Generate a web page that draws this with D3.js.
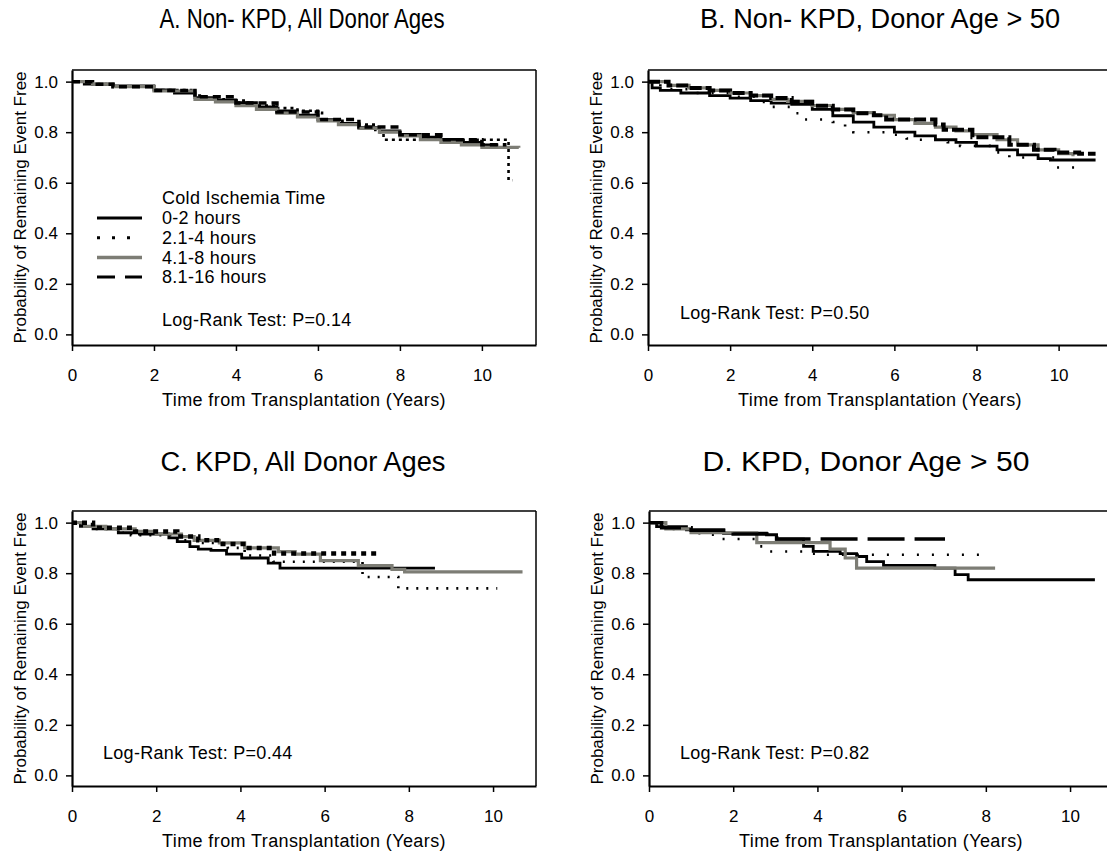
<!DOCTYPE html>
<html>
<head>
<meta charset="utf-8">
<script src="https://cdn.jsdelivr.net/npm/d3@7"></script>
<style>
  body { margin: 0; background: #fff; }
  text { font-family: "Liberation Sans", Arial, sans-serif; fill: #000; }
</style>
</head>
<body>
<svg id="chart" width="1107" height="860"></svg>
<script>
// ---- data: [years, survival] step points ----
const groups = ["0-2 hours", "2.1-4 hours", "4.1-8 hours", "8.1-16 hours"];
const xTicks = [0, 2, 4, 6, 8, 10];
const yTicks = [0.0, 0.2, 0.4, 0.6, 0.8, 1.0];
const titles = ["A. Non- KPD, All Donor Ages", "B. Non- KPD, Donor Age > 50",
                "C. KPD, All Donor Ages", "D. KPD, Donor Age > 50"];
const pValues = ["0.14", "0.50", "0.44", "0.82"];

// A. Non-KPD, all donor ages
const a0to2 = [[0,1],[0.3,0.99],[1,0.983],[2,0.967],[2.5,0.955],[3,0.937],[3.5,0.928],[4,0.917],[4.5,0.9],[5,0.884],[5.5,0.867],[6,0.85],[6.5,0.835],[7,0.818],[7.5,0.805],[8,0.791],[8.5,0.78],[9,0.771],[9.5,0.76],[10,0.75],[10.4,0.75]];
const a2to4 = [[0,1],[0.5,0.99],[1,0.982],[2,0.967],[3,0.945],[3.2,0.93],[3.7,0.925],[4.3,0.905],[5,0.895],[5.5,0.885],[6,0.877],[6.1,0.845],[6.6,0.835],[7,0.83],[7.4,0.8],[7.6,0.77],[10.6,0.77],[10.65,0.61],[10.75,0.61]];
const a4to8 = [[0,1],[0.5,0.99],[1,0.98],[2,0.963],[3,0.93],[3.5,0.92],[4,0.905],[4.5,0.89],[5,0.875],[5.5,0.86],[6,0.845],[6.5,0.83],[7,0.815],[7.5,0.8],[8,0.785],[8.5,0.77],[9,0.76],[9.5,0.75],[10,0.74],[10.9,0.738]];
const a8to16 = [[0,1],[0.5,0.99],[1,0.98],[2,0.965],[3,0.94],[4,0.915],[5,0.88],[6,0.85],[7,0.82],[8,0.79],[9,0.77],[10,0.75],[10.6,0.75]];

// B. Non-KPD, donor age > 50
const b0to2 = [[0,1],[0.1,0.975],[0.3,0.965],[0.8,0.955],[1.5,0.945],[2,0.935],[2.5,0.925],[3,0.915],[3.5,0.91],[4,0.89],[4.5,0.865],[5,0.84],[5.5,0.82],[6,0.8],[6.5,0.785],[7,0.77],[7.5,0.76],[8,0.745],[8.5,0.73],[9,0.71],[9.5,0.695],[9.8,0.69],[10.9,0.69]];
const b2to4 = [[0,1],[0.3,0.97],[1,0.955],[2,0.94],[2.7,0.92],[3,0.9],[3.5,0.875],[3.8,0.85],[4.5,0.84],[4.8,0.81],[5,0.8],[6,0.79],[6.3,0.775],[6.6,0.77],[7.3,0.76],[7.6,0.746],[8.5,0.72],[8.8,0.7],[9.9,0.66],[10.43,0.66]];
const b4to8 = [[0,1],[0.5,0.985],[1,0.975],[1.5,0.965],[2,0.955],[2.5,0.945],[3,0.93],[3.4,0.922],[4,0.905],[4.5,0.89],[5,0.877],[5.5,0.867],[6,0.85],[6.5,0.835],[7,0.82],[7.5,0.805],[7.9,0.79],[8.5,0.77],[9,0.75],[9.5,0.73],[10,0.715],[10.35,0.705]];
const b8to16 = [[0,1],[0.5,0.985],[1,0.975],[1.5,0.965],[2,0.955],[2.5,0.945],[3,0.935],[3.5,0.92],[4,0.905],[4.5,0.89],[5,0.875],[5.5,0.867],[5.8,0.85],[7,0.83],[7.2,0.81],[7.9,0.78],[8.8,0.75],[9.4,0.73],[9.9,0.72],[10.5,0.715],[10.9,0.715]];

// C. KPD, all donor ages
const c0to2 = [[0,1],[0.2,0.985],[0.5,0.975],[1.1,0.96],[1.6,0.955],[2.3,0.94],[2.5,0.925],[2.8,0.905],[3,0.895],[3.3,0.89],[3.67,0.875],[4.03,0.86],[4.66,0.84],[4.94,0.82],[8.62,0.82]];
const c2to4 = [[0,1],[0.5,0.975],[1.2,0.96],[1.4,0.95],[2.5,0.93],[3,0.92],[3.7,0.9],[4.1,0.87],[4.78,0.845],[6.9,0.785],[7.75,0.74],[10.1,0.74]];
const c4to8 = [[0,1],[0.3,0.985],[0.8,0.975],[1.5,0.965],[2,0.955],[2.6,0.945],[2.9,0.93],[3.5,0.92],[4.1,0.9],[4.9,0.885],[5.3,0.875],[5.9,0.85],[6.8,0.83],[7.6,0.815],[7.9,0.805],[10.7,0.805]];
const c8to16 = [[0,1],[0.5,0.98],[1.5,0.965],[2.5,0.945],[3,0.93],[3.5,0.915],[4.2,0.9],[4.8,0.878],[7.24,0.878]];

// D. KPD, donor age > 50
const d0to2 = [[0,1],[0.18,0.984],[0.89,0.971],[1.77,0.958],[2.79,0.952],[3.03,0.935],[3.67,0.906],[3.9,0.886],[4.54,0.877],[4.93,0.866],[5.17,0.846],[5.57,0.831],[6.79,0.82],[7.27,0.794],[7.58,0.774],[10.59,0.774]];
const d2to4 = [[0,1],[0.5,0.975],[1.05,0.958],[1.37,0.952],[1.69,0.935],[2.56,0.906],[2.79,0.886],[3.75,0.877],[4.06,0.873],[7.94,0.873]];
const d4to8 = [[0,1],[0.4,0.975],[1,0.96],[2.56,0.921],[4.3,0.895],[4.66,0.86],[4.93,0.82],[8.22,0.82]];
const d8to16 = [[0,1],[0.3,0.98],[1,0.97],[2,0.955],[3.03,0.935],[7.03,0.935]];

// ---- layout / style ----
const panels = [
  { series: [a0to2, a2to4, a4to8, a8to16], x0: 72, x1: 536, xMax: 11.32, top: 70, bot: 345,
    tx: 302, ty: 28, tw: 285, px: 162, py: 326, legend: true, dot: "3,4", dash: "8,5", dashW: 3.5 },
  { series: [b0to2, b2to4, b4to8, b8to16], x0: 648, x1: 1112, xMax: 11.3, top: 70, bot: 345,
    tx: 880, ty: 28, tw: 360, px: 680, py: 319, dot: "2,13", dash: "12,4", dashW: 4 },
  { series: [c0to2, c2to4, c4to8, c8to16], x0: 72, x1: 536, xMax: 11.02, top: 511, bot: 786,
    tx: 303, ty: 471, tw: 285, px: 103, py: 759, dot: "2,8", dash: "5,5", dashW: 4.5 },
  { series: [d0to2, d2to4, d4to8, d8to16], x0: 649, x1: 1113, xMax: 11.02, top: 511, bot: 786,
    tx: 866, ty: 471, tw: 327, px: 680, py: 759, dot: "2,13", dash: "37,10", dashW: 3.5 }
];

const lineStyles = [
  { color: "#000", width: 2.8, dash: null },
  { color: "#000", width: 2.6, dash: "dot" },
  { color: "#7d7d75", width: 3.2, dash: null },
  { color: "#000", width: 3.5, dash: "dash" }
];

const svg = d3.select("#chart");

panels.forEach((p, i) => {
  const x = d3.scaleLinear().domain([0, p.xMax]).range([p.x0, p.x1]);
  const y = d3.scaleLinear().domain([-0.042, 1.046]).range([p.bot, p.top]);
  const g = svg.append("g");

  // frame (top/right lighter)
  g.append("line").attr("x1", p.x0).attr("x2", p.x1).attr("y1", p.top).attr("y2", p.top)
    .attr("stroke", "#000").attr("stroke-width", 1.5);
  g.append("line").attr("x1", p.x1).attr("x2", p.x1).attr("y1", p.top).attr("y2", p.bot)
    .attr("stroke", "#000").attr("stroke-width", 1.5);

  const xAxis = g.append("g").attr("transform", `translate(0,${p.bot})`)
    .call(d3.axisBottom(x).tickValues(xTicks).tickFormat(d3.format("d")).tickSize(6).tickPadding(18).tickSizeOuter(0));
  const yAxis = g.append("g").attr("transform", `translate(${p.x0},0)`)
    .call(d3.axisLeft(y).tickValues(yTicks).tickFormat(d3.format(".1f")).tickSize(6).tickPadding(8).tickSizeOuter(0));
  [xAxis, yAxis].forEach(a => {
    a.select(".domain").attr("stroke-width", 2.2);
    a.selectAll(".tick line").attr("stroke-width", 1.5);
    a.selectAll("text").style("font-size", "17px");
  });

  // curves
  const line = d3.line().x(d => x(d[0])).y(d => y(d[1])).curve(d3.curveStepAfter);
  p.series.forEach((s, k) => {
    const st = lineStyles[k];
    g.append("path").datum(s)
      .attr("d", line)
      .attr("fill", "none")
      .attr("stroke", st.color)
      .attr("stroke-width", st.dash === "dash" ? p.dashW : st.width)
      .attr("stroke-dasharray", st.dash === "dot" ? p.dot : st.dash === "dash" ? p.dash : null);
  });

  // titles
  g.append("text").attr("x", p.tx).attr("y", p.ty).attr("text-anchor", "middle")
    .attr("textLength", p.tw).attr("lengthAdjust", "spacingAndGlyphs")
    .style("font-size", "27px").text(titles[i]);
  g.append("text").attr("x", (p.x0 + 536 - 72 + p.x0) / 2).attr("y", p.bot + 61)
    .attr("text-anchor", "middle").style("font-size", "18px").style("letter-spacing", "0.4px")
    .text("Time from Transplantation (Years)");
  g.append("text")
    .attr("transform", `translate(${p.x0 - 52},${(p.top + p.bot) / 2}) rotate(-90)`)
    .attr("text-anchor", "middle").attr("dy", "0.35em").style("font-size", "17px")
    .text("Probability of Remaining Event Free");

  g.append("text").attr("x", p.px).attr("y", p.py).style("font-size", "18px").style("letter-spacing", "0.3px")
    .text(`Log-Rank Test: P=${pValues[i]}`);

  if (p.legend) {
    const lg = g.append("g");
    lg.append("text").attr("x", 162).attr("y", 204).style("font-size", "18px").style("letter-spacing", "0.3px")
      .text("Cold Ischemia Time");
    const legendDash = ["", "3,12", "", "18,10"];
    groups.forEach((name, k) => {
      const ly = 218 + k * 19.7;
      lg.append("line").attr("x1", 97).attr("x2", 142).attr("y1", ly).attr("y2", ly)
        .attr("stroke", lineStyles[k].color).attr("stroke-width", k === 2 ? 3.5 : 3)
        .attr("stroke-dasharray", legendDash[k] || null);
      lg.append("text").attr("x", 162).attr("y", ly).attr("dy", "0.35em")
        .style("font-size", "18px").style("letter-spacing", "0.3px").text(name);
    });
  }
});
</script>
</body>
</html>
